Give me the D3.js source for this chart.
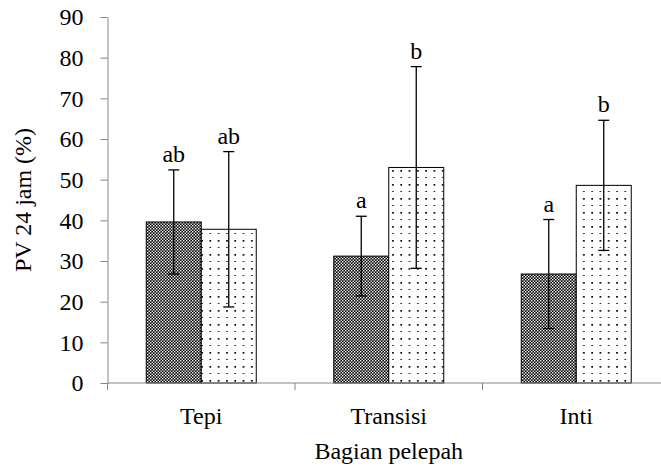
<!DOCTYPE html>
<html>
<head>
<meta charset="utf-8">
<script src="https://cdn.jsdelivr.net/npm/d3@7"></script>
<style>
  body { margin: 0; background: #fff; }
  text { font-family: "Liberation Serif", "Times New Roman", serif; fill: #000; }
</style>
</head>
<body>
<svg id="chart" width="661" height="468"></svg>
<script>
// chart data
const categories = ['Tepi', 'Transisi', 'Inti'];
const seriesKeys = ['checker', 'dotted'];
const checkerValues = [39.6, 31.2, 26.8];
const checkerErrors = [12.8, 9.8, 13.4];
const checkerLetters = ['ab', 'a', 'a'];
const dottedValues = [37.8, 53.0, 48.6];
const dottedErrors = [19.1, 24.8, 16.0];
const dottedLetters = ['ab', 'b', 'b'];
const yTicks = [0, 10, 20, 30, 40, 50, 60, 70, 80, 90];

const svg = d3.select('#chart');
const fontSize = '24px';

// plot area (the right end runs past the picture, as in the original)
const plotLeft = 107.5, plotRight = 670, plotTop = 17, plotBottom = 383;

const x = d3.scaleBand().domain(categories).range([plotLeft, plotRight]);
const barW = 55;
const x1 = d3.scaleBand().domain(seriesKeys).range([0, barW * 2]);
const y = d3.scaleLinear().domain([0, 90]).range([plotBottom, plotTop]);

// patterns
const defs = svg.append('defs');
const checker = defs.append('pattern')
    .attr('id', 'pat-checker')
    .attr('patternUnits', 'userSpaceOnUse')
    .attr('width', 3).attr('height', 3);
checker.append('rect').attr('width', 3).attr('height', 3).attr('fill', '#000');
checker.append('rect').attr('x', 0).attr('y', 0).attr('width', 1.4).attr('height', 1.4).attr('fill', '#fff');
checker.append('rect').attr('x', 1.5).attr('y', 1.5).attr('width', 1.4).attr('height', 1.4).attr('fill', '#fff');

const dots = defs.append('pattern')
    .attr('id', 'pat-dotted')
    .attr('patternUnits', 'userSpaceOnUse')
    .attr('width', 8.3).attr('height', 14);
dots.append('rect').attr('width', 8.3).attr('height', 14).attr('fill', '#fff');
dots.append('rect').attr('x', 2).attr('y', 2).attr('width', 1.7).attr('height', 1.7).attr('fill', '#000');
dots.append('rect').attr('x', 2).attr('y', 9).attr('width', 1.7).attr('height', 1).attr('fill', '#222');

// rows for drawing
const rows = [];
categories.forEach((c, i) => {
    rows.push({ cat: c, key: 'checker', value: checkerValues[i], err: checkerErrors[i], letter: checkerLetters[i] });
    rows.push({ cat: c, key: 'dotted', value: dottedValues[i], err: dottedErrors[i], letter: dottedLetters[i] });
});
const barX = d => x(d.cat) + x.bandwidth() / 2 - barW + x1(d.key);

// y axis
const yAxis = svg.append('g')
    .attr('transform', `translate(${plotLeft},0)`)
    .attr('font-family', null)
    .call(d3.axisLeft(y).tickValues(yTicks).tickSize(7).tickPadding(17).tickSizeOuter(0));
yAxis.attr('font-family', '"Liberation Serif", serif').attr('font-size', 24);
yAxis.select('.domain').attr('stroke', '#868686');
yAxis.selectAll('.tick line').attr('stroke', '#868686');
yAxis.selectAll('.tick text')
    .style('font-family', '"Liberation Serif", serif')
    .style('font-size', fontSize)
    .attr('fill', '#000');

// bars
svg.append('g').selectAll('rect')
    .data(rows)
    .enter().append('rect')
    .attr('x', barX)
    .attr('y', d => y(d.value))
    .attr('width', x1.bandwidth())
    .attr('height', d => y(0) - y(d.value))
    .attr('fill', d => `url(#pat-${d.key})`)
    .attr('stroke', '#000')
    .attr('stroke-width', 1);

// x axis (line plus category boundary ticks)
svg.append('line')
    .attr('x1', plotLeft).attr('x2', plotRight)
    .attr('y1', y(0)).attr('y2', y(0))
    .attr('stroke', '#868686');
svg.append('g').selectAll('line')
    .data(categories)
    .enter().append('line')
    .attr('x1', d => x(d)).attr('x2', d => x(d))
    .attr('y1', y(0)).attr('y2', y(0) + 7)
    .attr('stroke', '#868686');
svg.append('g').selectAll('text')
    .data(categories)
    .enter().append('text')
    .attr('x', d => x(d) + x.bandwidth() / 2)
    .attr('y', 424)
    .attr('text-anchor', 'middle')
    .style('font-size', fontSize)
    .text(d => d);

// error bars
const eb = svg.append('g').attr('stroke', '#000').attr('stroke-width', 1.3);
const cx = d => barX(d) + x1.bandwidth() / 2;
eb.selectAll('.stem').data(rows).enter().append('line')
    .attr('x1', cx).attr('x2', cx)
    .attr('y1', d => y(d.value - d.err)).attr('y2', d => y(d.value + d.err));
eb.selectAll('.capTop').data(rows).enter().append('line')
    .attr('x1', d => cx(d) - 5.5).attr('x2', d => cx(d) + 5.5)
    .attr('y1', d => y(d.value + d.err)).attr('y2', d => y(d.value + d.err));
eb.selectAll('.capBot').data(rows).enter().append('line')
    .attr('x1', d => cx(d) - 5.5).attr('x2', d => cx(d) + 5.5)
    .attr('y1', d => y(d.value - d.err)).attr('y2', d => y(d.value - d.err));

// significance letters
svg.append('g').selectAll('text')
    .data(rows)
    .enter().append('text')
    .attr('x', cx)
    .attr('y', d => y(d.value + d.err) - 8)
    .attr('text-anchor', 'middle')
    .style('font-size', fontSize)
    .text(d => d.letter);

// axis titles
svg.append('text')
    .attr('x', (plotLeft + plotRight) / 2)
    .attr('y', 459)
    .attr('text-anchor', 'middle')
    .style('font-size', fontSize)
    .text('Bagian pelepah');

svg.append('text')
    .attr('transform', `translate(31,${(plotTop + plotBottom) / 2}) rotate(-90)`)
    .attr('text-anchor', 'middle')
    .style('font-size', fontSize)
    .text('PV 24 jam (%)');
</script>
</body>
</html>
